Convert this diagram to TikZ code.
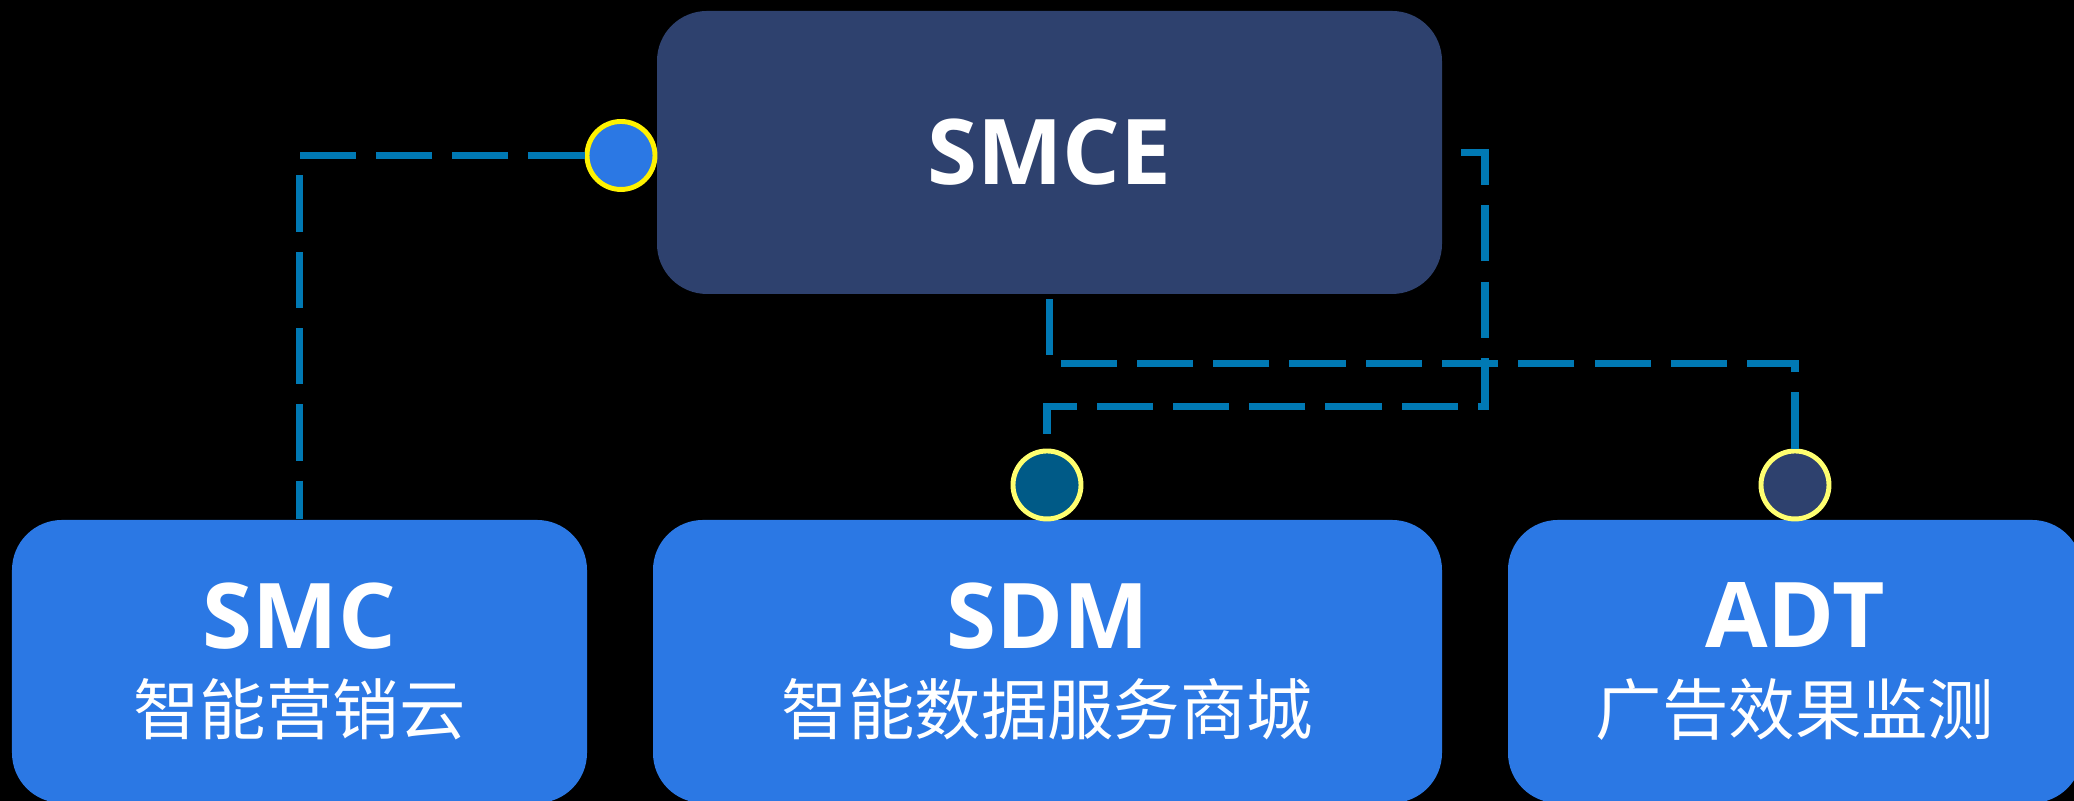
\documentclass[tikz,border=0pt]{standalone}
\usepackage{fontspec}
\setmainfont{Open Sans}
\newfontfamily\cjk{Noto Sans CJK SC}
\definecolor{navy}{HTML}{2E416E}
\definecolor{boxblue}{HTML}{2B78E4}
\definecolor{linkblue}{HTML}{0079B4}
\definecolor{dotteal}{HTML}{005A87}
\definecolor{paleyellow}{HTML}{FFFF70}
\newcommand{\subtitle}[1]{{\cjk\mdseries\fontsize{18.9}{24}\selectfont #1}}
\begin{document}
\begin{tikzpicture}
			[every node/.style={text=white},
			box/.style={rounded corners=0.5cm, minimum width=#1,
			minimum height=2.83cm, inner sep=0pt, align=center,
			font=\fontsize{25.8}{24.5}\selectfont\bfseries},
			dot/.style={circle, minimum size=0.68cm, inner sep=0pt,
			line width=1.4pt},
			link/.style={draw=linkblue, line width=2pt,
			dash pattern=on 16pt off 5.7pt}]
			\fill[black] (0,0) rectangle (20.74,8.01);
			\clip (0,0) rectangle (20.74,8.01);

			\node[box=7.85cm, fill=navy] (smce) at (10.495,6.485) {SMCE};

			\node[box=5.75cm, fill=boxblue] (smc) at (2.995,1.395)  {SMC\\\subtitle{智能营销云}};
			\node[box=7.89cm, fill=boxblue] (sdm) at (10.475,1.395) {SDM\\\subtitle{智能数据服务商城}};
			\node[box=5.74cm, fill=boxblue] (adt) at (17.95,1.395)  {ADT\\\subtitle{广告效果监测}};

			\node[dot, fill=boxblue, draw=yellow]    (c1) at (6.21,6.455) {};
			\node[dot, fill=dotteal, draw=paleyellow] (c2) at (10.47,3.16) {};
			\node[dot, fill=navy, draw=paleyellow]    (c3) at (17.95,3.16) {};

			\coordinate (r0) at (14.61,6.48);
			\coordinate (r1) at (14.85,3.94);
			\coordinate (j0) at (smce.south |- 0,4.37);

			\draw[link] (c1.west) -| (smc.north);
			\draw[link] (r0) -| (r1) -| (c2.north);
			\draw[link] (c3.north) |- (j0) -- (smce.south);
		\end{tikzpicture}
\end{document}
